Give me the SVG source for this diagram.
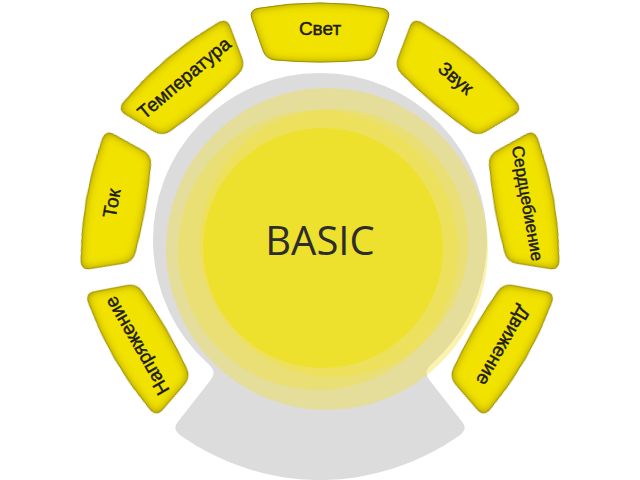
<svg xmlns="http://www.w3.org/2000/svg" xmlns:xlink="http://www.w3.org/1999/xlink" width="640" height="480" viewBox="0 0 640 480">
  <defs>
    <style>
      .seg { fill: #f2e200; stroke: #b3a200; stroke-width: 1; }
      .lbl { font-family: "Liberation Sans", Arial, sans-serif; font-size: 19px; fill: #1c1c1c; stroke: #1c1c1c; stroke-width: 0.45; text-anchor: middle; }
      .halo { fill: #f2e23a; opacity: 0.4; }
    </style>
    <path id="segShape" d="M 258 8.4 A 360 360 0 0 1 382 8.4 Q 391 10 388.05 18.5 L 376.95 50.5 Q 374 59 365 59.9 A 480 480 0 0 1 275 59.9 Q 266 59 263.05 50.5 L 251.95 18.5 Q 249 10 258 8.4 Z"/>
    <filter id="inner" x="-20%" y="-20%" width="140%" height="140%">
      <feGaussianBlur in="SourceAlpha" stdDeviation="5" result="b"/>
      <feComposite in="SourceAlpha" in2="b" operator="out" result="edge"/>
      <feFlood flood-color="#847600" flood-opacity="1"/>
      <feComposite in2="edge" operator="in" result="shadow"/>
      <feMerge>
        <feMergeNode in="SourceGraphic"/>
        <feMergeNode in="shadow"/>
      </feMerge>
    </filter>
  </defs>
  <rect width="640" height="480" fill="#ffffff"/>

  <g id="base">
    <path fill="#dcdcdc" d="M 211.0 379.5 L 177.2 422.8 Q 172.2 429.1 180.6 435.4 A 240 240 0 0 0 459.4 435.4 Q 467.8 429.1 462.8 422.8 L 429.0 379.5 Q 422.8 371.6 431.7 364.1 A 167 167 0 1 0 208.3 364.1 Q 217.2 371.6 211.0 379.5 Z"/>
    <circle class="halo" cx="327" cy="249" r="161"/>
    <circle class="halo" cx="318" cy="250" r="140"/>
    <circle class="halo" cx="334" cy="243" r="134"/>
  </g>

  <g id="basic">
    <circle cx="323" cy="248" r="120" fill="#eee12e"/>
    <text x="320" y="255" font-family="'Open Sans', 'Liberation Sans', sans-serif" font-size="40" fill="#2d2d2d" text-anchor="middle">BASIC</text>
  </g>

  <g id="svet">
    <use xlink:href="#segShape" class="seg" filter="url(#inner)"/>
    <text class="lbl" x="320" y="35">Свет</text>
  </g>
  <g id="zvuk" transform="rotate(40 320 240)">
    <use xlink:href="#segShape" class="seg" filter="url(#inner)"/>
    <text class="lbl" x="320" y="35">Звук</text>
  </g>
  <g id="serdcebienie" transform="rotate(80 320 240)">
    <use xlink:href="#segShape" class="seg" filter="url(#inner)"/>
    <text class="lbl" x="320" y="35" style="font-size:17px">Сердцебиение</text>
  </g>
  <g id="dvizhenie" transform="rotate(120 320 240)">
    <use xlink:href="#segShape" class="seg" filter="url(#inner)"/>
    <text class="lbl" x="320" y="35">Движение</text>
  </g>
  <g id="napryazhenie" transform="rotate(240 320 240)">
    <use xlink:href="#segShape" class="seg" filter="url(#inner)"/>
    <text class="lbl" x="320" y="35">Напряжение</text>
  </g>
  <g id="tok" transform="rotate(280 320 240)">
    <use xlink:href="#segShape" class="seg" filter="url(#inner)"/>
    <text class="lbl" x="320" y="35">Ток</text>
  </g>
  <g id="temperatura" transform="rotate(320 320 240)">
    <use xlink:href="#segShape" class="seg" filter="url(#inner)"/>
    <text class="lbl" x="320" y="35">Температура</text>
  </g>
</svg>
